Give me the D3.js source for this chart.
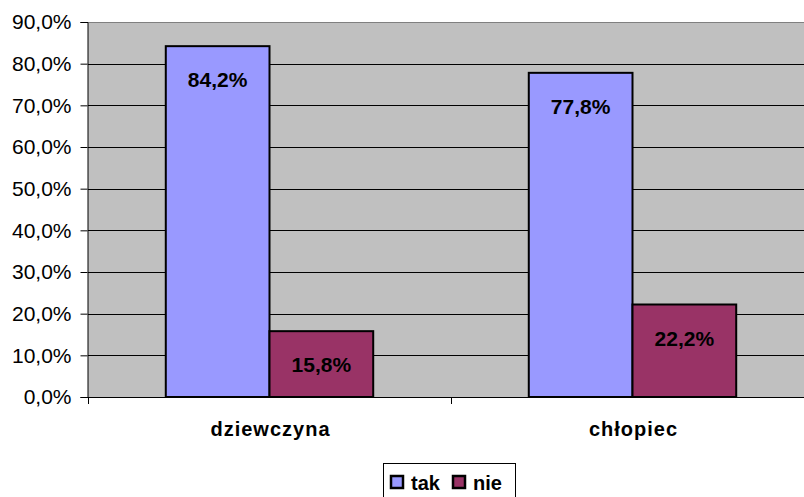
<!DOCTYPE html>
<html>
<head>
<meta charset="utf-8">
<script src="https://cdn.jsdelivr.net/npm/d3@7"></script>
<style>
  body { margin: 0; background: #fff; }
  text { font-family: "Liberation Sans", Arial, sans-serif; }
</style>
</head>
<body>
<svg id="chart" width="804" height="497"></svg>
<script>
var categories = ['dziewczyna', 'chłopiec'];
var seriesNames = ['tak', 'nie'];
var tak = [84.2, 77.8];
var nie = [15.8, 22.2];
var yTicks = [0, 10, 20, 30, 40, 50, 60, 70, 80, 90];
var colors = ['#9999FF', '#993366'];

(function() {
  var svg = d3.select('#chart');
  var pLeft = 88, pRight = 814, pTop = 22, pBottom = 397;

  var x = d3.scaleBand().domain(categories).range([pLeft, pRight]);
  var y = d3.scaleLinear().domain([0, 90]).range([pBottom, pTop]);
  var barW = x.bandwidth() / 3.5;
  var fmt = function(v) { return v.toFixed(1).replace('.', ',') + '%'; };

  // plot background
  svg.append('rect')
    .attr('x', pLeft).attr('y', pTop)
    .attr('width', pRight - pLeft).attr('height', pBottom - pTop)
    .attr('fill', '#C0C0C0');
  svg.append('line')
    .attr('x1', pLeft).attr('x2', pRight).attr('y1', pTop + 0.5).attr('y2', pTop + 0.5)
    .attr('stroke', '#808080').attr('stroke-width', 1);

  // gridlines
  svg.append('g').selectAll('line')
    .data(yTicks.filter(function(d) { return d > 0 && d < 90; }))
    .enter().append('line')
    .attr('x1', pLeft).attr('x2', pRight)
    .attr('y1', function(d) { return Math.round(y(d)) + 0.5; })
    .attr('y2', function(d) { return Math.round(y(d)) + 0.5; })
    .attr('stroke', '#000').attr('stroke-width', 1);

  // y axis
  var yAxis = d3.axisLeft(y).tickValues(yTicks).tickSize(7).tickPadding(9).tickFormat(fmt);
  var gy = svg.append('g').attr('transform', 'translate(' + (pLeft - 0.5) + ',0)').call(yAxis);
  gy.select('.domain').attr('stroke', '#000');
  gy.selectAll('.tick line').attr('stroke', '#000');
  gy.selectAll('.tick text').attr('font-size', 21).attr('fill', '#000')
    .style('font-family', '"Liberation Sans", Arial, sans-serif');

  // bars
  var data = [];
  categories.forEach(function(c, i) {
    data.push({ cat: c, s: 0, v: tak[i] });
    data.push({ cat: c, s: 1, v: nie[i] });
  });
  var barX = function(d) { return x(d.cat) + x.bandwidth() / 2 - barW + d.s * barW; };

  svg.append('g').selectAll('rect')
    .data(data).enter().append('rect')
    .attr('x', barX)
    .attr('y', function(d) { return y(d.v); })
    .attr('width', barW)
    .attr('height', function(d) { return pBottom - y(d.v); })
    .attr('fill', function(d) { return colors[d.s]; })
    .attr('stroke', '#000').attr('stroke-width', 2);

  svg.append('g').selectAll('text')
    .data(data).enter().append('text')
    .attr('x', function(d) { return barX(d) + barW / 2; })
    .attr('y', function(d) { return y(d.v) + 41; })
    .attr('text-anchor', 'middle')
    .attr('font-size', 21).attr('font-weight', 'bold')
    .text(function(d) { return fmt(d.v); });

  // x axis
  svg.append('line')
    .attr('x1', pLeft).attr('x2', pRight).attr('y1', pBottom + 0.5).attr('y2', pBottom + 0.5)
    .attr('stroke', '#000');
  svg.append('g').selectAll('line')
    .data(categories.concat(['end'])).enter().append('line')
    .attr('x1', function(d, i) { return Math.round(pLeft + i * x.step()) + 0.5; })
    .attr('x2', function(d, i) { return Math.round(pLeft + i * x.step()) + 0.5; })
    .attr('y1', pBottom).attr('y2', pBottom + 7)
    .attr('stroke', '#000');
  svg.append('g').selectAll('text')
    .data(categories).enter().append('text')
    .attr('x', function(d) { return x(d) + x.bandwidth() / 2 + 1; })
    .attr('y', 436)
    .attr('text-anchor', 'middle')
    .attr('font-size', 20).attr('font-weight', 'bold')
    .attr('letter-spacing', 1)
    .text(function(d) { return d; });

  // legend
  var lg = svg.append('g');
  lg.append('rect')
    .attr('x', 383.5).attr('y', 463.5).attr('width', 132).attr('height', 40)
    .attr('fill', '#fff').attr('stroke', '#000');
  var items = lg.selectAll('g').data(seriesNames).enter().append('g')
    .attr('transform', function(d, i) { return 'translate(' + (391 + i * 62) + ',0)'; });
  items.append('rect')
    .attr('x', 0).attr('y', 476).attr('width', 12).attr('height', 12)
    .attr('fill', function(d, i) { return colors[i]; })
    .attr('stroke', '#000').attr('stroke-width', 2.5);
  items.append('text')
    .attr('x', 20).attr('y', 490)
    .attr('font-size', 20).attr('font-weight', 'bold')
    .text(function(d) { return d; });
})();
</script>
</body>
</html>
